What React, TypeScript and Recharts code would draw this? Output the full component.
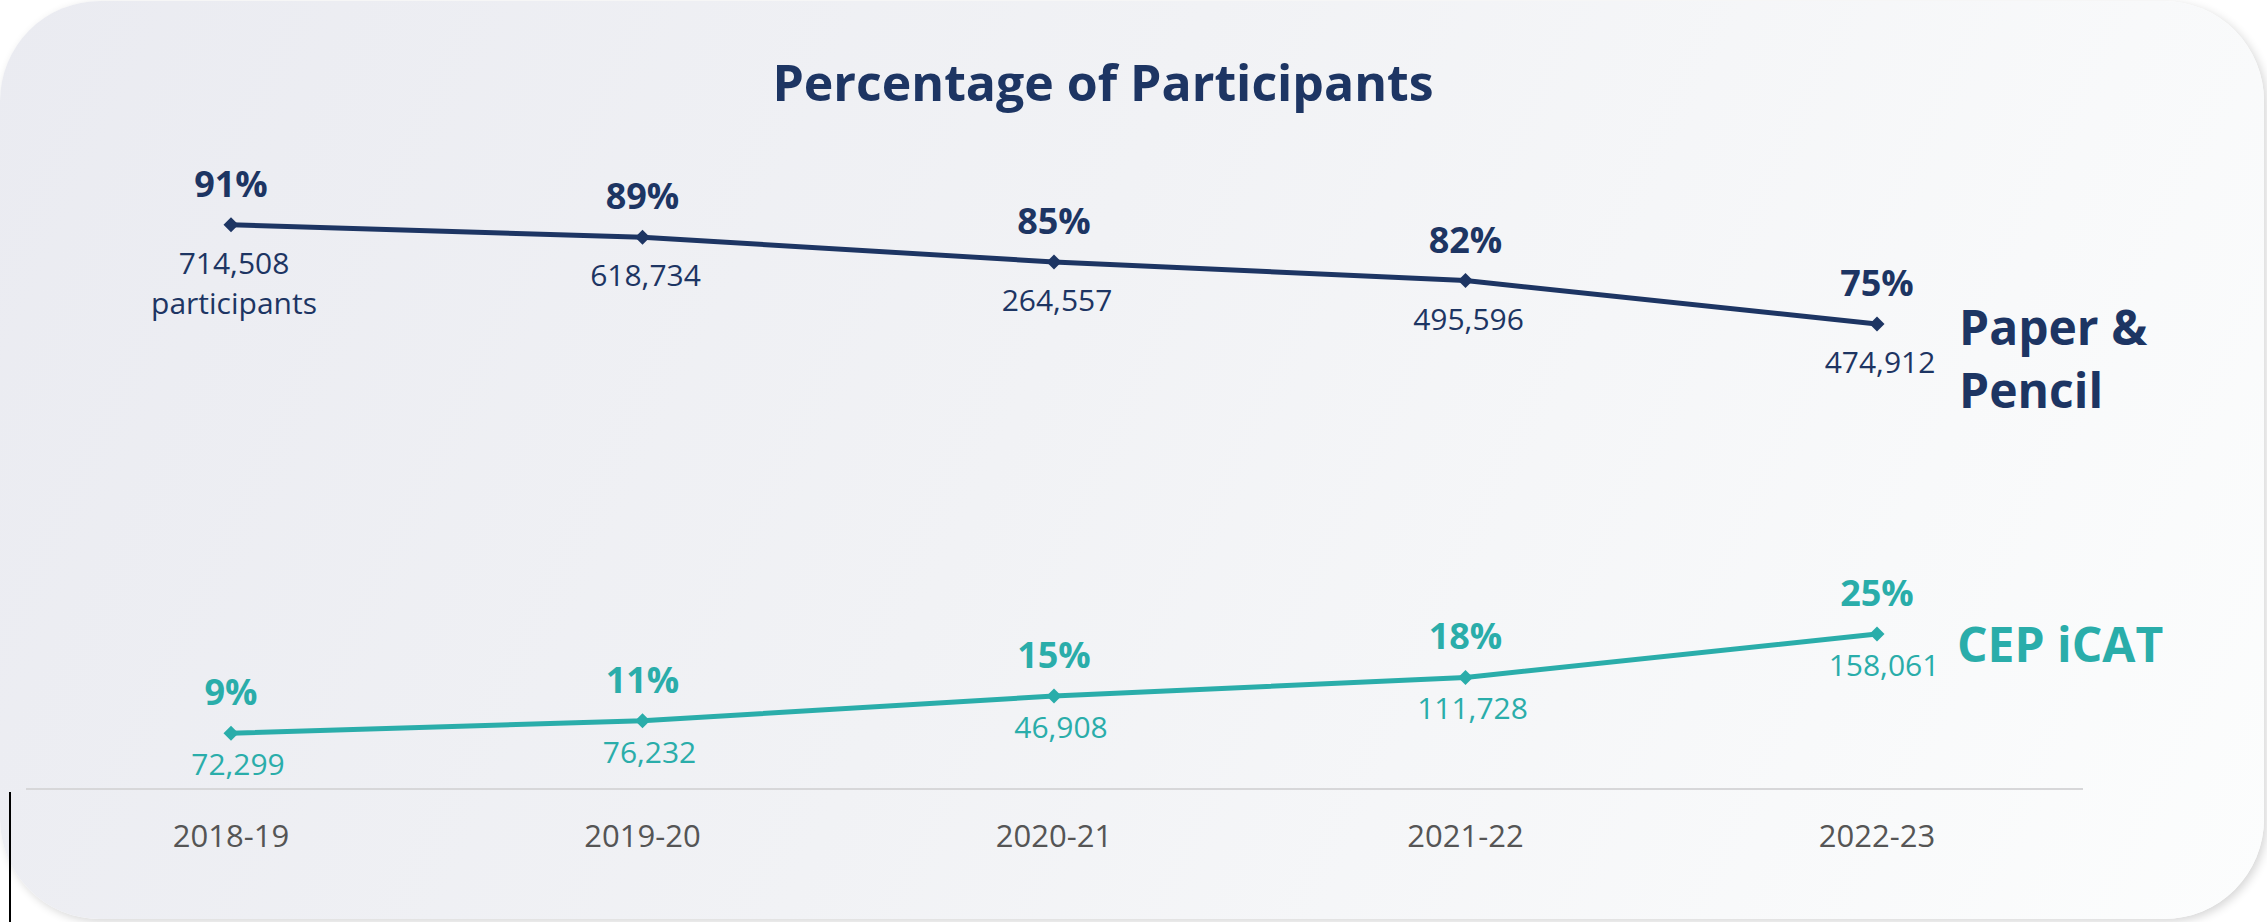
import React from 'react';
import { LineChart, Line, XAxis, YAxis, LabelList } from 'recharts';

const years = ['2018-19', '2019-20', '2020-21', '2021-22', '2022-23'];
const paperPct = [91, 89, 85, 82, 75];
const icatPct = [9, 11, 15, 18, 25];
const paperCount = [714508, 618734, 264557, 495596, 474912];
const icatCount = [72299, 76232, 46908, 111728, 158061];
const paperName = ['Paper &', 'Pencil'];
const icatName = ['CEP iCAT'];
const titleText = 'Percentage of Participants';

const data = years.map((y, i) => ({ year: y, paper: paperPct[i], icat: icatPct[i] }));

const NAVY = '#1d3563';
const TEAL = '#2aadaa';
const FONT = '"Open Sans", "Noto Sans", sans-serif';
const W = 2267;
const H = 922;

const fmt = (n: number) => n.toLocaleString('en-US');

const makeDiamond = (color: string) => (props: any) => {
  const { cx, cy, index } = props;
  if (cx == null || cy == null) return <g key={`e${index}`} />;
  const s = 7.5;
  return (
    <path
      key={`d${color}${index}`}
      d={`M${cx},${cy - s}L${cx + s},${cy}L${cx},${cy + s}L${cx - s},${cy}Z`}
      fill={color}
    />
  );
};

const PaperLabel = (props: any) => {
  const { x, y, index, value } = props;
  if (x == null) return null;
  const last = index === years.length - 1;
  return (
    <g fontFamily={FONT}>
      <text x={x} y={y - 28} textAnchor="middle" fontSize={36} fontWeight={700} fill={NAVY}>
        {value}%
      </text>
      <text x={x + 3} y={y + 49} textAnchor="middle" fontSize={30} fill={NAVY}>
        {fmt(paperCount[index])}
      </text>
      {index === 0 && (
        <text x={x + 3} y={y + 89} textAnchor="middle" fontSize={30} fill={NAVY}>
          participants
        </text>
      )}
      {last &&
        paperName.map((t, k) => (
          <text key={t} x={x + 82} y={y + 21 + k * 63} textAnchor="start" fontSize={48} fontWeight={700} fill={NAVY}>
            {t}
          </text>
        ))}
    </g>
  );
};

const IcatLabel = (props: any) => {
  const { x, y, index, value } = props;
  if (x == null) return null;
  const last = index === years.length - 1;
  return (
    <g fontFamily={FONT}>
      <text x={x} y={y - 28} textAnchor="middle" fontSize={36} fontWeight={700} fill={TEAL}>
        {value}%
      </text>
      <text x={x + 7} y={y + 42} textAnchor="middle" fontSize={30} fill={TEAL}>
        {fmt(icatCount[index])}
      </text>
      {last &&
        icatName.map((t, k) => (
          <text key={t} x={x + 80} y={y + 28 + k * 63} textAnchor="start" fontSize={48} fontWeight={700} fill={TEAL}>
            {t}
          </text>
        ))}
    </g>
  );
};

const Tick = (props: any) => {
  const { x, y, payload } = props;
  return (
    <text x={x} y={y + 58} textAnchor="middle" fontFamily={FONT} fontSize={31} fill="#555555">
      {payload.value}
    </text>
  );
};

export default function App() {
  return (
    <div style={{ position: 'absolute', left: 0, top: 0, width: W, height: H, background: '#ffffff', overflow: 'hidden' }}>
      <div
        style={{
          position: 'absolute',
          left: 0,
          top: 1,
          width: 2264,
          height: 918,
          borderRadius: 100,
          background: 'linear-gradient(115deg, #eaebf1 0%, #f1f2f5 45%, #fcfdfd 100%)',
          boxShadow: '3px 3px 10px rgba(0,0,0,0.16)',
        }}
      />
      <div style={{ position: 'absolute', left: 9, top: 792, width: 2, height: 130, background: '#000' }} />
      <svg width={W} height={H} style={{ position: 'absolute', left: 0, top: 0 }}>
        <text x={1103} y={101} textAnchor="middle" fontFamily={FONT} fontSize={50} fontWeight={700} fill={NAVY}>
          {titleText}
        </text>
      </svg>
      <div style={{ position: 'absolute', left: 0, top: 0 }}>
        <LineChart width={W} height={H} data={data} margin={{ top: 169, right: 184, bottom: 73, left: 26 }} style={{ overflow: 'visible' }}>
          <XAxis
            dataKey="year"
            scale="point"
            padding={{ left: 205, right: 206 }}
            height={60}
            axisLine={{ stroke: '#d7d7d9', strokeWidth: 2 }}
            tickLine={false}
            tickSize={0}
            tickMargin={0}
            tick={<Tick />}
            interval={0}
          />
          <YAxis hide type="number" domain={[0, 100]} width={0} />
          <Line
            type="linear"
            dataKey="paper"
            stroke={NAVY}
            strokeWidth={5}
            dot={makeDiamond(NAVY)}
            activeDot={false}
            isAnimationActive={false}
          >
            <LabelList dataKey="paper" content={<PaperLabel />} />
          </Line>
          <Line
            type="linear"
            dataKey="icat"
            stroke={TEAL}
            strokeWidth={5}
            dot={makeDiamond(TEAL)}
            activeDot={false}
            isAnimationActive={false}
          >
            <LabelList dataKey="icat" content={<IcatLabel />} />
          </Line>
        </LineChart>
      </div>
    </div>
  );
}
